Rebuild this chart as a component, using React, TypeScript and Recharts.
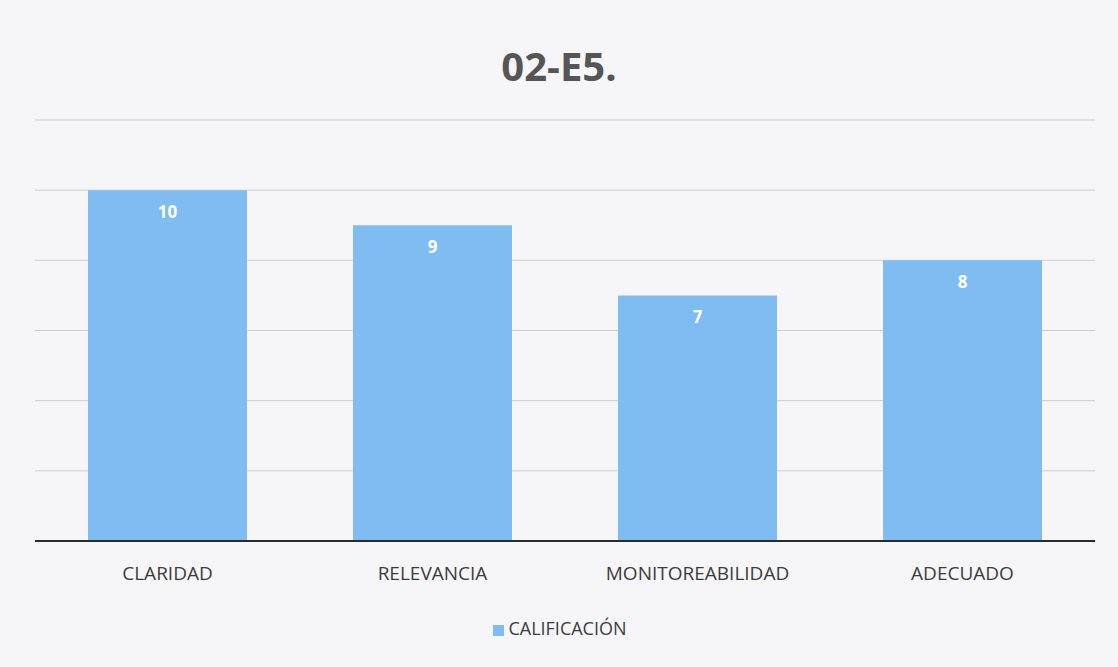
import { BarChart, Bar, XAxis, YAxis, CartesianGrid, Legend, LabelList } from "recharts"

const categories = ["CLARIDAD", "RELEVANCIA", "MONITOREABILIDAD", "ADECUADO"]
const calificacion = [10, 9, 7, 8]
const yTicks = [0, 2, 4, 6, 8, 10, 12]

const data = categories.map((name, i) => ({ name, value: calificacion[i] }))

const font = "'Open Sans', sans-serif"

export default function App() {
  return (
    <div
      style={{
        position: "absolute",
        left: 0,
        top: 0,
        width: 1118,
        height: 667,
        background: "#f6f6f8",
        fontFamily: font,
      }}
    >
      <div
        style={{
          position: "absolute",
          top: 38,
          width: "100%",
          textAlign: "center",
          fontSize: 40,
          fontWeight: 700,
          color: "#555555",
        }}
      >
        02-E5.
      </div>
      <BarChart
        width={1118}
        height={667}
        data={data}
        margin={{ top: 120, right: 23, bottom: 27, left: 35 }}
        barCategoryGap="20%"
      >
        <CartesianGrid vertical={false} stroke="#cdcdcd" />
        <YAxis hide domain={[0, 12]} ticks={yTicks} />
        <XAxis
          dataKey="name"
          tickLine={false}
          axisLine={{ stroke: "#2b2b2b", strokeWidth: 2 }}
          tick={{ fill: "#3c3c3c", fontSize: 19, fontFamily: font }}
          tickMargin={20}
          height={75}
        />
        <Legend
          verticalAlign="bottom"
          iconType="square"
          iconSize={11}
          formatter={(v) => <span style={{ color: "#3c3c3c", fontSize: 18, fontFamily: font }}>{v}</span>}
        />
        <Bar dataKey="value" name="CALIFICACIÓN" fill="#7ebcf1" isAnimationActive={false}>
          <LabelList
            dataKey="value"
            position="insideTop"
            offset={16}
            fill="#ffffff"
            fontSize={17}
            fontWeight={700}
            fontFamily={font}
          />
        </Bar>
      </BarChart>
    </div>
  )
}
